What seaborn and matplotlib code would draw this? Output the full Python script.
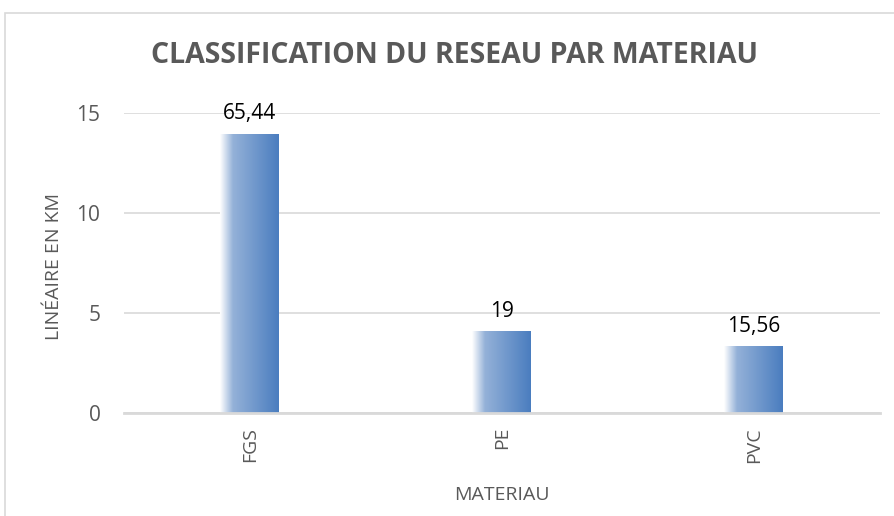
import numpy as np
import pandas as pd
import matplotlib
matplotlib.use("Agg")
import matplotlib.pyplot as plt
from matplotlib.colors import LinearSegmentedColormap
import seaborn as sns

# Data
materials = ["FGS", "PE", "PVC"]
lengths_km = [13.94, 4.05, 3.31]
share_labels = ["65,44", "19", "15,56"]

df = pd.DataFrame({"materiau": materials, "km": lengths_km})

sns.set_theme(style="white")
plt.rcParams["font.family"] = ["Open Sans", "DejaVu Sans"]

grey = "#595959"
fig = plt.figure(figsize=(8.94, 5.16), dpi=100)
ax = fig.add_axes([0.1387, 0.1996, 0.8453, 0.5814])

sns.barplot(data=df, x="materiau", y="km", color="#4f81bd", width=0.234, ax=ax, zorder=3)

# gradient fill: white on the left edge to blue on the right
grad = LinearSegmentedColormap.from_list(
    "bar", [(0.0, "#ffffff"), (0.22, "#94b1d8"), (1.0, "#4a7dbf")])
img = np.linspace(0, 1, 256).reshape(1, -1)
for patch, lab in zip(ax.patches, share_labels):
    x0, y0 = patch.get_x(), patch.get_y()
    w, h = patch.get_width(), patch.get_height()
    patch.set_facecolor("none")
    patch.set_edgecolor("none")
    ax.imshow(img, cmap=grad, aspect="auto", extent=[x0, x0 + w, y0, y0 + h],
              zorder=3, interpolation="bilinear")
    ax.text(x0 + w / 2, y0 + h + 0.5, lab, ha="center", va="bottom",
            fontsize=15, color="black", zorder=4)

ax.set_xlim(-0.5, 2.5)
ax.set_ylim(0, 15)
ax.set_yticks([0, 5, 10, 15])
ax.yaxis.grid(True, color="#d9d9d9", linewidth=1.2, zorder=0)
ax.set_axisbelow(True)
for s in ["top", "right", "left"]:
    ax.spines[s].set_visible(False)
ax.spines["bottom"].set_color("#d9d9d9")
ax.spines["bottom"].set_linewidth(2)
ax.spines["bottom"].set_zorder(5)

ax.tick_params(axis="y", labelsize=15, labelcolor=grey, length=0, pad=17)
ax.tick_params(axis="x", labelsize=14, labelcolor=grey, length=0, pad=10, rotation=90)
ax.set_xlabel("MATERIAU", fontsize=14, color=grey, labelpad=17)
ax.set_ylabel("")
ax.text(-0.092, 0.49, "LINÉAIRE EN KM", transform=ax.transAxes, rotation=90,
        ha="center", va="center", fontsize=14, color=grey)

fig.text(0.508, 0.893, "CLASSIFICATION DU RESEAU PAR MATERIAU", ha="center", va="center",
         fontsize=20.5, fontweight="bold", color=grey)

# light frame around the chart area
frame = plt.Rectangle((0.006, -0.01), 1.1, 0.985, transform=fig.transFigure,
                      fill=False, edgecolor="#d9d9d9", linewidth=1.2)
fig.add_artist(frame)

fig.savefig("out.png", dpi=100)
